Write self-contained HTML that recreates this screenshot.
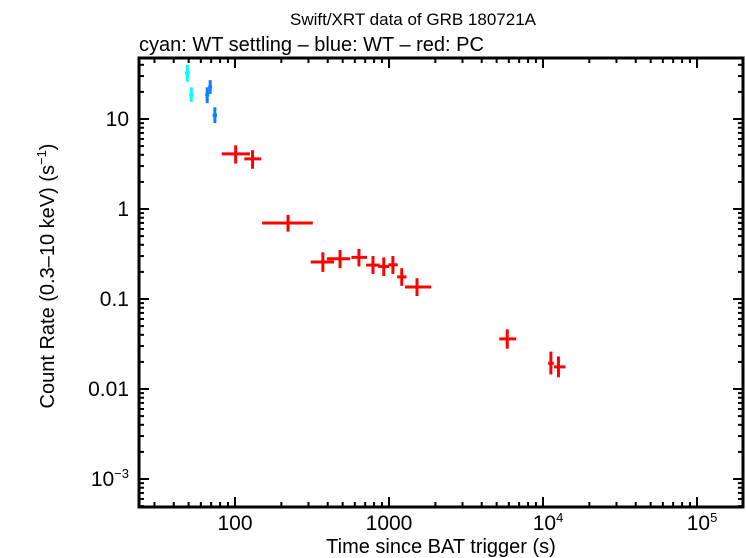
<!DOCTYPE html>
<html><head><meta charset="utf-8"><style>
body{margin:0;background:#fff}
svg{display:block;font-family:"Liberation Sans",sans-serif}
</style></head><body>
<svg id="chart" width="746" height="558" viewBox="0 0 746 558" xmlns="http://www.w3.org/2000/svg">
<rect width="746" height="558" fill="#fff"/>
<text x="413" y="25" font-size="17" text-anchor="middle">Swift/XRT data of GRB 180721A</text>
<text x="139" y="51" font-size="20">cyan: WT settling – blue: WT – red: PC</text>
<g id="marks"></g>
<g id="axes"></g>
<text x="441" y="553" font-size="20" text-anchor="middle">Time since BAT trigger (s)</text>
<text transform="translate(54,276) rotate(-90)" font-size="20" text-anchor="middle">Count Rate (0.3–10 keV) (s<tspan font-size="13" dy="-8">−1</tspan><tspan dy="8">)</tspan></text>
</svg>
<script>
// data
const cyanT=[49,52], cyanTlo=[47.3,50.3], cyanThi=[50.8,53.8];
const cyanR=[32.5,18.5], cyanRlo=[26,15.5], cyanRhi=[40,22.5];
const blueT=[66,69,74], blueTlo=[64,67,71.5], blueThi=[68,71,76.5];
const blueR=[18.5,22.7,11], blueRlo=[15,19,9], blueRhi=[22.5,27,13.5];
const redT=[101,130,221,372,481,638,787,925,1060,1210,1520,5860,11250,12600];
const redTlo=[82,115,150,310,395,570,710,850,990,1130,1270,5200,10800,11800];
const redThi=[125,148,320,440,560,720,870,1000,1140,1300,1880,6700,11750,14000];
const redR=[4.1,3.6,0.70,0.258,0.28,0.29,0.238,0.23,0.24,0.176,0.136,0.036,0.0193,0.0176];
const redRlo=[3.2,2.8,0.56,0.20,0.22,0.23,0.19,0.18,0.19,0.14,0.108,0.028,0.0145,0.0135];
const redRhi=[5.1,4.5,0.86,0.33,0.35,0.36,0.30,0.29,0.30,0.22,0.17,0.046,0.026,0.023];
const xTickVals=[100,1000,10000,100000];
const xTickLabels=["100","1000","10^4","10^5"];
const yTickVals=[10,1,0.1,0.01,0.001];
const yTickLabels=["10","1","0.1","0.01","10^−3"];

const L=139,R=743,T=58,B=507;
const xs=t=>235+154*(Math.log10(t)-2);
const ys=r=>119-90*(Math.log10(r)-1);
const NS="http://www.w3.org/2000/svg";
function mk(tag,attrs,parent){const e=document.createElementNS(NS,tag);for(const k in attrs)e.setAttribute(k,attrs[k]);parent.appendChild(e);return e;}
const marks=document.getElementById('marks'), axes=document.getElementById('axes');
function series(T_,Tl,Th,Rv,Rl,Rh,color,name){
  for(let i=0;i<T_.length;i++){
    const g=mk('g',{},marks);
    
    
    mk('line',{x1:xs(Tl[i]),x2:xs(Th[i]),y1:ys(Rv[i]),y2:ys(Rv[i]),stroke:color,'stroke-width':3},g);
    mk('line',{x1:xs(T_[i]),x2:xs(T_[i]),y1:ys(Rl[i]),y2:ys(Rh[i]),stroke:color,'stroke-width':3},g);
  }
}
series(cyanT,cyanTlo,cyanThi,cyanR,cyanRlo,cyanRhi,'#00ffff','wt-settling');
series(blueT,blueTlo,blueThi,blueR,blueRlo,blueRhi,'#0f7fff','wt');
series(redT,redTlo,redThi,redR,redRlo,redRhi,'#ff0000','pc');

const frame=mk('rect',{x:L,y:T,width:R-L,height:B-T,fill:'none',stroke:'#000','stroke-width':3},axes);


for(let d=1;d<=5;d++){for(let m=1;m<10;m++){const v=m*Math.pow(10,d);const x=xs(v);if(x<L||x>R)continue;const len=m==1?10:5;
  mk('line',{x1:x,x2:x,y1:B,y2:B-len,stroke:'#000','stroke-width':2},axes);
  mk('line',{x1:x,x2:x,y1:T,y2:T+len,stroke:'#000','stroke-width':2},axes);}}
for(let d=-4;d<=1;d++){for(let m=1;m<10;m++){const v=m*Math.pow(10,d);const y=ys(v);if(y<T||y>B)continue;const len=m==1?10:5;
  mk('line',{x1:L,x2:L+len,y1:y,y2:y,stroke:'#000','stroke-width':2},axes);
  mk('line',{x1:R,x2:R-len,y1:y,y2:y,stroke:'#000','stroke-width':2},axes);}}
function label(txt,x,y,anchor,name){
  const t=mk('text',{x:x,y:y,'font-size':21,'text-anchor':anchor},axes);
  
  
  if(txt.startsWith('10^')){t.textContent='10';const s=mk('tspan',{'font-size':13,dy:-8},t);s.textContent=txt.slice(3);}
  else t.textContent=txt;
}
xTickVals.forEach((v,i)=>label(xTickLabels[i],xs(v)+(xTickLabels[i].startsWith('10^')?5:0),530,'middle','x-tick-label'));
yTickVals.forEach((v,i)=>label(yTickLabels[i],129,ys(v)+7,'end','y-tick-label'));
</script>
</body></html>
